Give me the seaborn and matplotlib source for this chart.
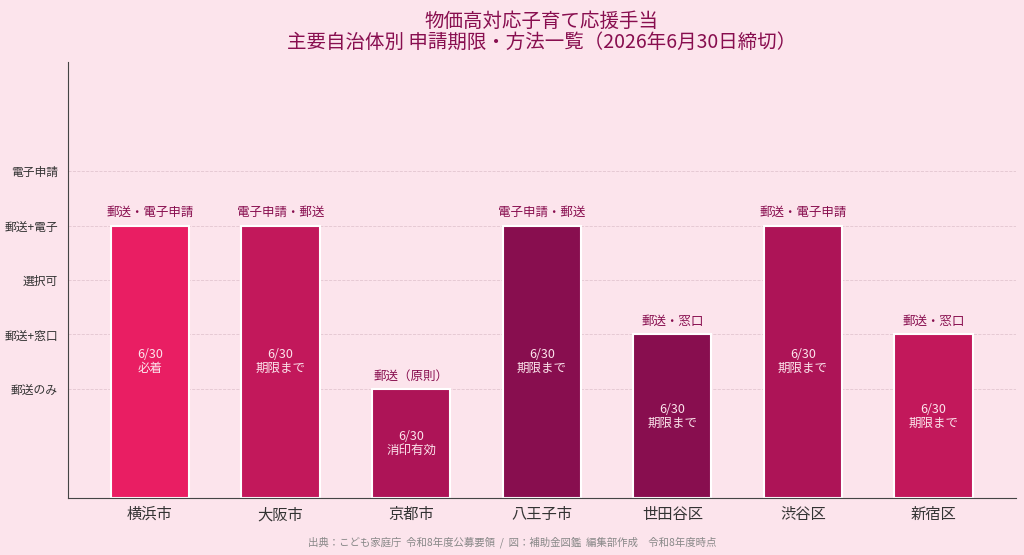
import numpy as np
import pandas as pd
import matplotlib
matplotlib.use("Agg")
import matplotlib.pyplot as plt
import seaborn as sns

# データ
cities = ["横浜市", "大阪市", "京都市", "八王子市", "世田谷区", "渋谷区", "新宿区"]
method_level = [5, 5, 2, 5, 3, 5, 3]
method_text = ["郵送・電子申請", "電子申請・郵送", "郵送（原則）", "電子申請・郵送",
               "郵送・窓口", "郵送・電子申請", "郵送・窓口"]
deadline_text = ["6/30\n必着", "6/30\n期限まで", "6/30\n消印有効", "6/30\n期限まで",
                 "6/30\n期限まで", "6/30\n期限まで", "6/30\n期限まで"]
ytick_vals = [2, 3, 4, 5, 6]
ytick_labels = ["郵送のみ", "郵送+窓口", "選択可", "郵送+電子", "電子申請"]
bar_colors = ["#E91E63", "#C2185B", "#AD1457", "#880E4F", "#880E4F", "#AD1457", "#C2185B"]

bg = "#FCE4EC"
dark = "#880E4F"

sns.set_style("white")
plt.rcParams["font.family"] = ["Noto Sans CJK JP", "DejaVu Sans"]

df = pd.DataFrame({"city": cities, "level": method_level})

fig, ax = plt.subplots(figsize=(10.24, 5.55), dpi=100)
fig.patch.set_facecolor(bg)
ax.set_facecolor(bg)

sns.barplot(data=df, x="city", y="level", hue="city", palette=bar_colors,
            saturation=1, legend=False, width=0.6, edgecolor="white",
            linewidth=1.5, ax=ax)

for i, (h, top, inner) in enumerate(zip(method_level, method_text, deadline_text)):
    ax.text(i, h + 0.12, top, ha="center", va="bottom", fontsize=9, color=dark)
    ax.text(i, h / 2, inner, ha="center", va="center", fontsize=9,
            color=bg, linespacing=1.1)

ax.set_xlim(-0.63, 6.63)
ax.set_ylim(0, 8)
ax.set_yticks(ytick_vals)
ax.set_yticklabels(ytick_labels, fontsize=8.5, color="#333333")
ax.tick_params(axis="x", labelsize=11, colors="#333333", length=4, pad=2)
ax.tick_params(axis="y", length=4, colors="#333333", pad=3)
ax.grid(axis="y", linestyle="--", color="#d8b8c4", linewidth=0.6, alpha=0.7)
ax.set_axisbelow(True)
ax.set_xlabel("")
ax.set_ylabel("")
for s in ["top", "right"]:
    ax.spines[s].set_visible(False)
for s in ["left", "bottom"]:
    ax.spines[s].set_color("#444444")

ax.set_title("物価高対応子育て応援手当\n主要自治体別 申請期限・方法一覧（2026年6月30日締切）",
             fontsize=14, color=dark, linespacing=1.05, pad=10)

fig.text(0.5, 0.012, "出典：こども家庭庁  令和8年度公募要領  /  図：補助金図鑑  編集部作成　令和8年度時点",
         ha="center", va="bottom", fontsize=7.5, color="#888888")

plt.subplots_adjust(left=0.066, right=0.992, top=0.888, bottom=0.103)
fig.savefig("out.png", dpi=100, facecolor=bg)
